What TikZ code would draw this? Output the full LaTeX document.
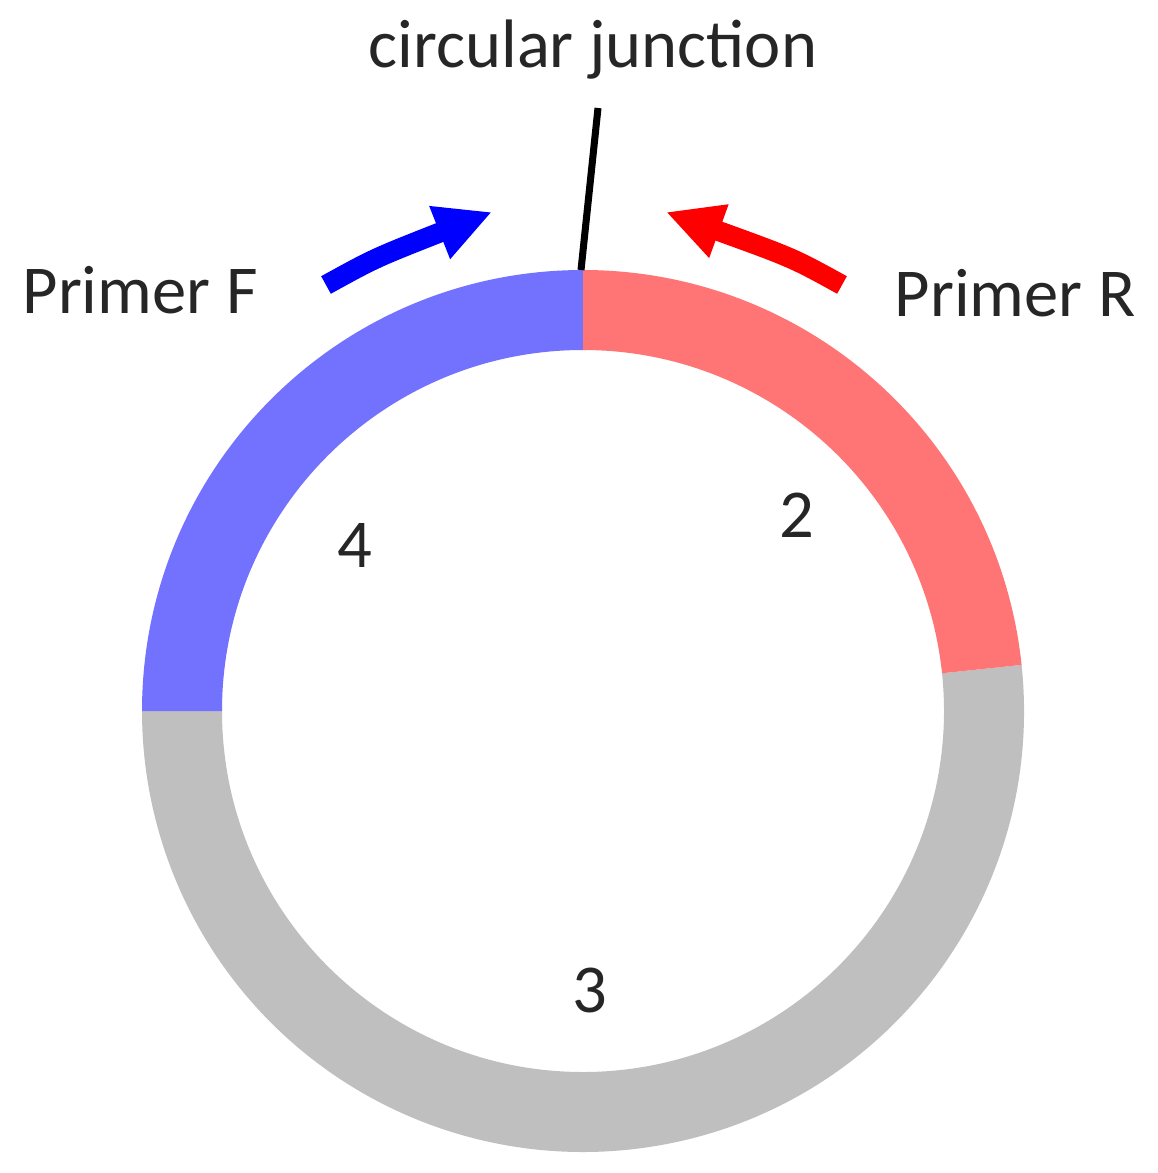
\documentclass[tikz,border=0pt]{standalone}
\usepackage{fontspec}
\setmainfont{Carlito}
\usetikzlibrary{arrows.meta}
\definecolor{cblue}{RGB}{114,114,255}
\definecolor{cred}{RGB}{255,117,117}
\definecolor{cgray}{RGB}{191,191,191}
\tikzset{lbl/.style={font=\fontsize{19.5}{22}\selectfont,text=black!85},
 parrow/.style={line width=5.7pt,-{Triangle[length=16pt,width=15pt]}}}
\begin{document}
\begin{tikzpicture}[x=0.01cm,y=-0.01cm]
\useasboundingbox (0,0) rectangle (1157,1173);
\coordinate (c) at (583,711);
\fill[cgray] (c) ++(-6:441) arc[start angle=-6,end angle=180,radius=441] -- ++(80,0) arc[start angle=180,end angle=-6,radius=361] -- cycle;
\fill[cblue] (c) ++(-90:441) arc[start angle=-90,end angle=-180,radius=441] -- ++(80,0) arc[start angle=-180,end angle=-90,radius=361] -- cycle;
\fill[cred] (c) ++(-90:441) arc[start angle=-90,end angle=-6,radius=441] -- ++(174:80) arc[start angle=-6,end angle=-90,radius=361] -- cycle;
\coordinate (jb) at (581,270);
\coordinate (jt) at (598,108);
\draw[line width=2pt] (jb) -- (jt);
\node[lbl] (cj) at (593,50) {circular junction};
\node[lbl] (pf) at (140,290) {Primer F};
\node[lbl] (pr) at (1015,293) {Primer R};
\node[lbl] (n4) at (355,545) {4};
\node[lbl] (n2) at (797,515) {2};
\node[lbl] (n3) at (590,990) {3};
\coordinate (bf0) at (326,285);
\coordinate (bf1) at (492,212);
\coordinate (rf0) at (842,285);
\coordinate (rf1) at (666,212);
\draw[parrow,blue] (bf0) .. controls (375,258) .. (bf1);
\draw[parrow,red] (rf0) .. controls (793,258) .. (rf1);
\end{tikzpicture}
\end{document}
